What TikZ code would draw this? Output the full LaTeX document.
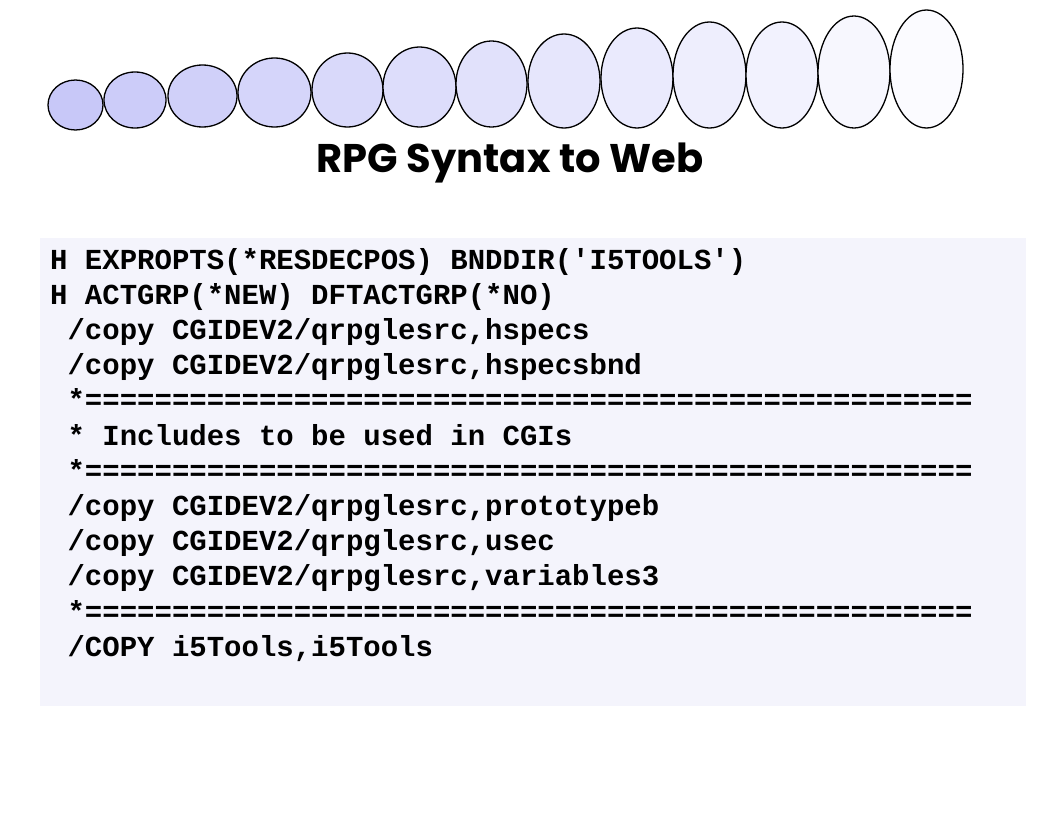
\documentclass[tikz,border=0pt]{standalone}
\usepackage{fontspec}
\newfontfamily\codefont{Liberation Mono}[BoldFont={Liberation Mono Bold}]
\newfontfamily\titlefont{Poppins}[BoldFont={Poppins Bold}]
\definecolor{ecA}{RGB}{200,200,248}
\definecolor{ecB}{RGB}{251,251,255}
\definecolor{codebg}{RGB}{244,244,252}
\begin{document}
\begin{tikzpicture}[x=1bp,y=-1bp,
  bubble/.style={draw=black,line width=1.3bp},
  codeline/.style={anchor=base west,inner sep=0pt,font=\codefont\bfseries\fontsize{29bp}{35bp}\selectfont},
  titletext/.style={anchor=base,inner sep=0pt,font=\titlefont\bfseries\fontsize{40bp}{48bp}\selectfont}]
\useasboundingbox (0,0) rectangle (1056,816);
\fill[white] (0,0) rectangle (1056,816);
% bubbles
\foreach \cx/\cy/\rx/\ry [count=\i from 0] in {
  75.5/105/27.5/25, 135/100/31/28, 202.5/96/34.5/31, 274.5/92.5/36.5/34.5,
  347.5/90/35.5/37, 419.5/87/36.5/40, 491.5/84/35.5/43, 564/81/36/47,
  637/78/36/50, 709.5/75/36.5/53, 782/75/36/53, 854/72/36/56, 926.5/69/36.5/59}{
  \pgfmathsetmacro\pct{\i/12*100}
  \draw[bubble,fill=ecB!\pct!ecA] (\cx,\cy) ellipse [x radius=\rx, y radius=\ry];
}
% title
\node[titletext] (title) at (510,172) {RPG Syntax to Web};
% code box
\fill[codebg] (40,238) rectangle (1026,706);
\def\cw{17.4}
\node[codeline] (l1) at (50,269) {H EXPROPTS(*RESDECPOS) BNDDIR('I5TOOLS')};
\node[codeline] (l2) at (50,304.2) {H ACTGRP(*NEW) DFTACTGRP(*NO)};
\node[codeline] (l3) at (67.4,339.4) {/copy CGIDEV2/qrpglesrc,hspecs};
\node[codeline] (l4) at (67.4,374.6) {/copy CGIDEV2/qrpglesrc,hspecsbnd};
\node[codeline] (l5) at (67.4,409.8) {*===================================================};
\node[codeline] (l6) at (67.4,445.0) {* Includes to be used in CGIs};
\node[codeline] (l7) at (67.4,480.2) {*===================================================};
\node[codeline] (l8) at (67.4,515.4) {/copy CGIDEV2/qrpglesrc,prototypeb};
\node[codeline] (l9) at (67.4,550.6) {/copy CGIDEV2/qrpglesrc,usec};
\node[codeline] (l10) at (67.4,585.8) {/copy CGIDEV2/qrpglesrc,variables3};
\node[codeline] (l11) at (67.4,621.0) {*===================================================};
\node[codeline] (l12) at (67.4,656.2) {/COPY i5Tools,i5Tools};
\end{tikzpicture}
\end{document}
